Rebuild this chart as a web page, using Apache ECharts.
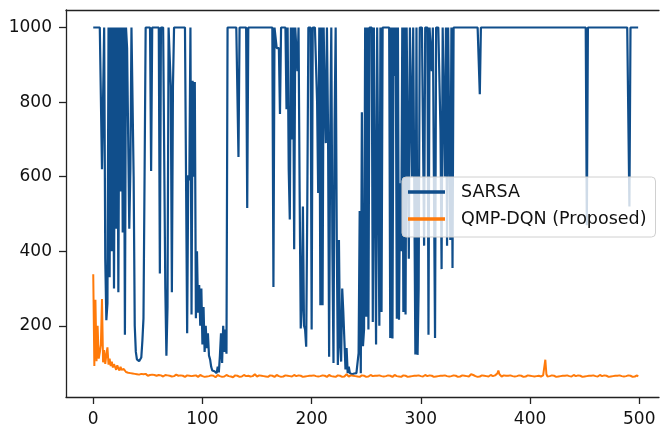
<!DOCTYPE html>
<html>
<head>
<meta charset="utf-8">
<script src="https://cdn.jsdelivr.net/npm/echarts@6/dist/echarts.min.js"></script>
<style>
html,body{margin:0;padding:0;background:#fff;}
#c{width:660px;height:428px;}
</style>
</head>
<body>
<div id="c"></div>
<script>
const seriesNames = ["SARSA", "QMP-DQN (Proposed)"];
const xTicks = [0, 100, 200, 300, 400, 500];
const yTicks = [200, 400, 600, 800, 1000];
const xRange = [-24.95, 518.1];
const yRange = [9, 1047];

const sarsa = [
1000,1000,1000,1000,1000,1000,1000,1000,620,620,1000,380,215,260,1000,330,1000,400,1000,300,
1000,460,1000,290,1000,560,1000,450,1000,176,1000,945,940,460,620,1000,1000,600,200,130,
110,105,105,108,115,160,220,600,1000,1000,1000,1000,1000,615,1000,1000,1000,1000,1000,1000,
1000,340,1000,1000,1000,1000,300,120,250,1000,1000,843,290,843,1000,1000,1000,1000,1000,1000,
1000,1000,1000,1000,1000,1000,180,604,590,1000,230,857,600,854,220,400,235,309,200,300,
150,250,130,200,140,180,120,110,90,80,75,78,73,73,90,75,120,180,100,200,
130,190,125,1000,1000,1000,1000,1000,1000,1000,1000,1000,1000,653,1000,1000,1000,1000,1000,1000,
1000,516,1000,1000,1000,1000,1000,1000,1000,1000,1000,1000,1000,1000,1000,1000,1000,1000,1000,1000,
1000,1000,1000,1000,1000,304,1000,1000,945,945,945,768,1000,1000,1000,1000,1000,781,1000,620,
485,1000,700,1000,405,1000,1000,883,1000,560,193,250,520,200,190,144,520,1000,1000,1000,
190,1000,1000,1000,1000,800,556,1000,255,1000,255,1000,813,690,1000,737,117,700,1000,405,
100,740,1000,432,95,430,150,104,300,237,160,83,140,73,90,73,72,70,70,72,
70,73,73,127,508,73,773,145,190,1000,224,1000,190,1000,1000,1000,210,1000,1000,150,
1000,1000,200,1000,237,1000,1000,1000,1000,1000,1000,1000,167,1000,166,1000,870,1000,219,1000,
216,582,400,1000,237,1000,230,1000,700,380,1000,1000,600,1000,1000,123,1000,122,300,1000,
1000,1000,1000,415,1000,1000,1000,176,1000,1000,883,1000,1000,167,1000,1000,1000,1000,724,352,
1000,1000,600,1000,415,1000,1000,430,1000,355,1000,1000,1000,1000,1000,1000,1000,1000,1000,1000,
1000,1000,1000,1000,1000,1000,1000,1000,1000,1000,1000,1000,1000,1000,821,1000,1000,1000,1000,1000,
1000,1000,1000,1000,1000,1000,1000,1000,1000,1000,1000,1000,1000,1000,1000,1000,1000,1000,1000,1000,
1000,1000,1000,1000,1000,1000,1000,1000,1000,1000,1000,1000,1000,1000,1000,1000,1000,1000,1000,1000,
1000,1000,1000,1000,1000,1000,1000,1000,1000,1000,1000,1000,1000,1000,1000,1000,1000,1000,1000,1000,
1000,1000,1000,1000,1000,1000,1000,1000,1000,1000,1000,1000,1000,1000,1000,1000,1000,1000,1000,1000,
1000,1000,1000,1000,1000,1000,1000,1000,1000,1000,1000,1000,470,1000,1000,1000,1000,1000,1000,1000,
1000,1000,1000,1000,1000,1000,1000,1000,1000,1000,1000,1000,1000,1000,1000,1000,1000,1000,1000,1000,
1000,1000,1000,1000,1000,1000,1000,1000,1000,1000,1000,520,1000,1000,1000,1000,1000,1000,1000,1000
];

const qmpdqn = [
338,92,270,105,200,112,128,150,272,102,135,98,122,142,96,112,92,104,88,97,
92,82,94,86,80,90,82,77,84,79,76,81,74,78,73,77,72,75,71,74,
70,73,69,72,71,68,70,67,71,69,66,70,68,67,69,65,68,70,66,67,
68,65,67,69,64,66,68,65,67,63,66,68,64,67,65,66,69,64,66,65,
67,64,66,68,63,65,67,64,66,68,65,63,66,64,67,65,63,66,68,64,
65,67,63,66,64,68,65,63,67,64,66,65,62,66,68,64,65,67,63,66,
64,66,68,63,65,67,64,66,62,65,67,64,66,65,63,67,64,66,68,64,
65,63,66,67,64,66,65,68,70,66,64,65,67,63,66,64,65,67,64,66,
63,65,67,64,66,65,63,66,68,64,65,67,63,66,64,65,67,64,66,63,
65,67,64,66,68,64,65,63,67,64,66,65,63,66,64,67,65,63,66,64,
66,65,67,63,65,68,64,66,65,63,67,64,66,65,63,66,68,64,65,67,
64,66,63,65,67,64,66,65,63,66,64,68,70,66,64,65,67,63,66,64,
65,67,64,66,63,65,67,64,66,65,63,67,64,66,68,64,65,63,66,64,
66,65,67,63,65,68,64,66,65,63,67,64,66,65,63,66,68,64,65,67,
64,66,63,65,67,64,66,65,63,66,64,67,65,63,66,64,66,65,67,63,
65,67,64,66,68,64,65,63,67,64,66,65,63,66,64,67,65,63,66,64,
66,65,67,63,65,68,64,66,65,63,67,64,66,65,63,66,64,65,67,64,
66,63,65,67,64,66,70,75,68,64,65,67,63,66,64,65,67,64,66,63,
65,67,64,66,68,64,65,63,67,64,72,80,70,66,64,65,67,63,66,64,
66,65,67,63,65,68,64,66,65,63,67,64,66,65,63,66,64,65,67,64,
66,63,65,67,64,66,65,63,66,68,64,65,67,72,109,70,64,66,65,63,
67,64,66,65,63,66,64,67,65,63,66,64,66,65,67,63,65,67,64,66,
68,64,65,63,67,64,66,65,63,66,64,67,65,63,66,64,66,65,67,63,
65,67,64,66,68,64,65,63,67,64,66,65,63,66,64,67,65,63,66,64,
66,65,67,63,65,68,64,66,65,63,67,64,66,65,63,66,64,65,67,64
];

const colors = ["#104e8b", "#ff7a0a"];
const axisColor = "#222";
const font = "DejaVu Sans";
const plain = v => String(v);

const chart = echarts.init(document.getElementById('c'), null, {renderer: 'canvas'});
chart.setOption({
  animation: false,
  backgroundColor: '#fff',
  grid: {left: 66, top: 10, right: 1, bottom: 27, show: false},
  legend: {
    orient: 'vertical', left: 402, top: 177,
    data: seriesNames,
    itemWidth: 37, itemHeight: 14, itemGap: 9,
    padding: [6, 9, 9, 6],
    backgroundColor: 'rgba(255,255,255,0.8)',
    borderColor: '#d0d0d0', borderWidth: 1, borderRadius: 4,
    textStyle: {fontFamily: font, fontSize: 17.5, color: '#111', padding: [0,0,0,11]},
    icon: 'path://M0,0 L10,0 L10,1 L0,1 Z'
  },
  xAxis: [{
    type: 'value', min: xRange[0], max: xRange[1], position: 'bottom',
    axisLine: {show: true, onZero: false, lineStyle: {color: axisColor, width: 1.3}},
    axisTick: {show: true, length: 7, customValues: xTicks, lineStyle: {color: axisColor, width: 1.3}},
    axisLabel: {customValues: xTicks, formatter: plain, margin: 14, fontFamily: font, fontSize: 17, color: '#111'},
    splitLine: {show: false}
  }, {
    type: 'value', min: xRange[0], max: xRange[1], position: 'top',
    axisLine: {show: true, onZero: false, lineStyle: {color: axisColor, width: 1.3}},
    axisTick: {show: false}, axisLabel: {show: false}, splitLine: {show: false}
  }],
  yAxis: {
    type: 'value', min: yRange[0], max: yRange[1],
    axisLine: {show: true, onZero: false, lineStyle: {color: axisColor, width: 1.3}},
    axisTick: {show: true, length: 7, customValues: yTicks, lineStyle: {color: axisColor, width: 1.3}},
    axisLabel: {customValues: yTicks, formatter: plain, margin: 14, fontFamily: font, fontSize: 17, color: '#111'},
    splitLine: {show: false}
  },
  series: [
    {name: seriesNames[0], type: 'line', symbol: 'none', xAxisIndex: 0, data: sarsa.map((v, i) => [i, v]),
     lineStyle: {color: colors[0], width: 2.2}, itemStyle: {color: colors[0]}},
    {name: seriesNames[1], type: 'line', symbol: 'none', xAxisIndex: 0, data: qmpdqn.map((v, i) => [i, v]),
     lineStyle: {color: colors[1], width: 2}, itemStyle: {color: colors[1]}}
  ]
});
</script>
</body>
</html>
